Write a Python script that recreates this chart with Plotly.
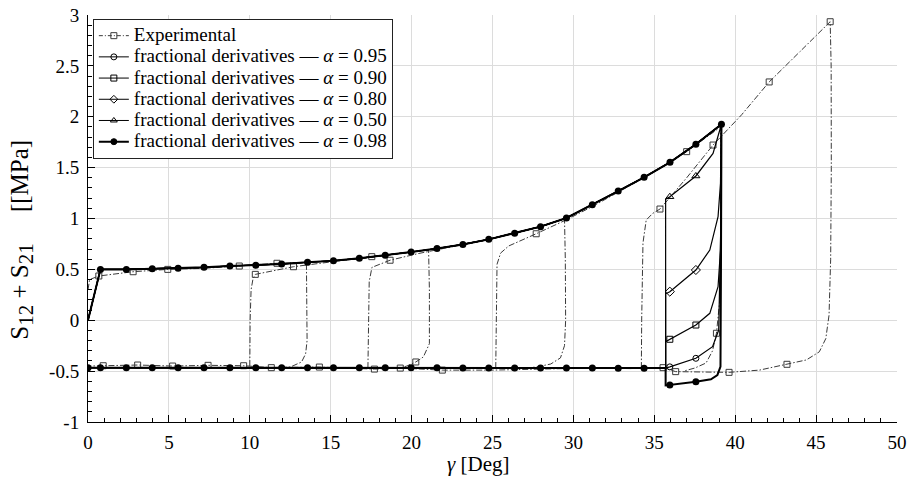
import plotly.graph_objects as go

# ---------------- Fractional-derivative model ----------------
# shared loading branch (gamma in deg, S12+S21 in MPa)
LOAD_X = [0.0, 0.77, 2.37, 3.97, 5.57, 7.17, 8.77, 10.37, 11.97, 13.57, 15.17, 16.77,
          18.37, 19.97, 21.57, 23.17, 24.77, 26.37, 27.97, 29.57, 31.17, 32.77, 34.37,
          35.97, 37.57, 39.15]
LOAD_Y = [0.0, 0.50, 0.50, 0.507, 0.511, 0.52, 0.533, 0.54, 0.553, 0.57, 0.585, 0.609,
          0.638, 0.671, 0.705, 0.745, 0.795, 0.855, 0.92, 1.005, 1.135, 1.27, 1.405,
          1.552, 1.729, 1.926]
# shared lower branch (from the end of unloading back to 0)
LOWER_X = [35.7, 34.37, 32.77, 31.17, 29.57, 27.97, 26.37, 24.77, 23.17, 21.57, 19.97,
           18.37, 16.77, 15.17, 13.57, 11.97, 10.37, 8.77, 7.17, 5.57, 3.97, 2.37, 0.77, 0.0]
LOWER_Y = [-0.47, -0.472, -0.472, -0.47, -0.47, -0.47, -0.47, -0.47, -0.47, -0.468, -0.468,
           -0.468, -0.468, -0.468, -0.467, -0.467, -0.466, -0.466, -0.466, -0.466, -0.466,
           -0.466, -0.466, -0.466]

# unloading branches (39.15 -> 35.7), one per alpha
UNL_X = {
    "0.95": [39.15, 39.12, 39.05, 38.98, 38.6, 37.57, 35.96, 35.7],
    "0.90": [39.15, 39.12, 39.09, 38.94, 38.43, 37.57, 35.96, 35.7],
    "0.80": [39.15, 39.12, 39.09, 38.94, 38.43, 37.57, 35.96, 35.7],
    "0.50": [39.15, 38.63, 37.57, 35.96, 35.7],
    "0.98": [39.15, 39.12, 39.09, 38.9, 38.5, 37.57, 35.96, 35.7],
}
UNL_Y = {
    "0.95": [1.926, 1.0, 0.3, -0.096, -0.26, -0.374, -0.458, -0.47],
    "0.90": [1.926, 1.3, 0.69, 0.33, 0.068, -0.047, -0.187, -0.21],
    "0.80": [1.926, 1.7, 1.346, 1.018, 0.69, 0.494, 0.281, 0.26],
    "0.50": [1.926, 1.64, 1.418, 1.214, 1.19],
    "0.98": [1.926, 0.5, -0.456, -0.54, -0.58, -0.604, -0.636, -0.64],
}
# marker positions on the unloading branches
UNL_MX = [37.57, 35.96]
UNL_MY = {
    "0.95": [-0.374, -0.458],
    "0.90": [-0.047, -0.187],
    "0.80": [0.494, 0.281],
    "0.50": [1.418, 1.214],
    "0.98": [-0.604, -0.636],
}

# ---------------- Experimental ----------------
EXP_X = [0.0, 0.1, 0.67, 2.79, 4.93, 7.1, 9.35, 11.68, 13.5, 13.53, 13.54, 13.45, 13.2, 12.5, 11.33,
         None,
         10.0, 10.02, 10.08, 10.2, 10.34, 12.7, 15.1, 17.54, 19.6, 21.05, 21.1, 21.1, 20.73, 20.26, 19.7, 19.3,
         None,
         17.3, 17.32, 17.38, 17.55, 18.67, 20.4, 22.6, 24.6, 26.6, 28.3, 29.45, 29.5, 29.52, 29.45, 29.2, 28.6, 27.7, 26.9,
         None,
         25.2, 25.22, 25.28, 25.5, 26.0, 27.7, 29.6, 31.2, 33.0, 34.7, 37.0, 39.1, 39.12, 39.05, 38.84, 38.6, 38.2, 37.5, 36.8,
         None,
         34.2, 34.22, 34.3, 34.5, 34.9, 35.35, 37.0, 38.63, 40.4, 42.1, 44.0, 45.87, 45.93, 45.94, 45.9, 45.8,
         45.6, 45.2, 44.4, 43.2, 41.5, 39.62, 37.8, 36.32, 35.54, 33.5, 31.0, 28.0, 25.0, 21.9, 19.3, 17.7,
         14.3, 11.33, 9.62, 7.42, 5.23, 3.07, 0.94, 0.0]
EXP_Y = [0.30, 0.40, 0.435, 0.477, 0.50, 0.51, 0.533, 0.56, 0.57, 0.3, -0.2, -0.33, -0.41, -0.46, -0.466,
         None,
         -0.45, 0.0, 0.3, 0.41, 0.451, 0.526, 0.575, 0.625, 0.665, 0.69, 0.3, -0.23, -0.36, -0.41, -0.45, -0.47,
         None,
         -0.47, 0.0, 0.38, 0.52, 0.59, 0.655, 0.725, 0.79, 0.865, 0.94, 1.0, 0.6, 0.0, -0.25, -0.37, -0.43, -0.46, -0.47,
         None,
         -0.47, 0.0, 0.55, 0.66, 0.73, 0.85, 0.99, 1.12, 1.28, 1.43, 1.657, 1.9, 1.0, 0.2, -0.128, -0.3, -0.42, -0.47, -0.5,
         None,
         -0.47, 0.0, 0.76, 0.985, 1.05, 1.093, 1.40, 1.722, 2.02, 2.342, 2.64, 2.934, 2.5, 1.5, 0.6, 0.05,
         -0.18, -0.31, -0.39, -0.433, -0.49, -0.512, -0.51, -0.505, -0.466, -0.475, -0.47, -0.48, -0.49, -0.49, -0.47, -0.48,
         -0.46, -0.466, -0.447, -0.443, -0.45, -0.44, -0.447, -0.45]
# experimental sample markers
EXP_MX = [0.67, 2.79, 4.93, 9.35, 10.34, 11.68, 12.7, 17.54, 18.67, 20.26, 27.7, 35.35, 37.0, 38.63, 38.84,
          42.1, 45.87, 43.2, 39.62, 36.32, 35.54, 21.9, 19.3, 17.7, 14.3, 11.33, 9.62, 7.42, 5.23, 3.07, 0.94]
EXP_MY = [0.435, 0.477, 0.50, 0.533, 0.451, 0.56, 0.526, 0.625, 0.59, -0.41, 0.85, 1.093, 1.657, 1.722, -0.128,
          2.342, 2.934, -0.433, -0.512, -0.505, -0.466, -0.49, -0.47, -0.48, -0.46, -0.466, -0.447, -0.443, -0.45, -0.44, -0.447]

ALPHAS = ["0.95", "0.90", "0.80", "0.50", "0.98"]
SYMBOLS = {"0.95": "circle-open", "0.90": "square-open", "0.80": "diamond-open",
           "0.50": "triangle-up-open", "0.98": "circle"}

Y_TICKS = [-1, -0.5, 0, 0.5, 1, 1.5, 2, 2.5, 3]
Y_TICK_TEXT = ["-1", "-0.5", "0", "0.5", "1", "1.5", "2", "2.5", "3"]
X_TICKS = [0, 5, 10, 15, 20, 25, 30, 35, 40, 45, 50]

FONT = "Liberation Serif, Times New Roman, serif"
EXP_COLOR = "#3a3a3a"
EXP_DASH = "6px,2px,1.5px,2px"
LEG_SPAN = "<span style='font-size:19px'>{}</span>"
Y_TITLE = ("S<sub><span style='font-size:21px'>12</span></sub> + "
           "S<sub><span style='font-size:21px'>21</span></sub>"
           "&nbsp;&nbsp;&nbsp;&nbsp;&nbsp;[[MPa]")

fig = go.Figure()

# experimental
fig.add_trace(go.Scatter(x=EXP_X, y=EXP_Y, mode="lines", connectgaps=False,
                         line=dict(color=EXP_COLOR, width=1, dash=EXP_DASH),
                         showlegend=False, hoverinfo="skip"))
fig.add_trace(go.Scatter(x=EXP_MX, y=EXP_MY, mode="markers",
                         marker=dict(symbol="square-open", size=6, color=EXP_COLOR,
                                     line=dict(width=1, color=EXP_COLOR)),
                         showlegend=False))

# fractional model curves
for a in ALPHAS:
    w = 2 if a == "0.98" else 1.2
    xs = LOAD_X + UNL_X[a] + LOWER_X
    ys = LOAD_Y + UNL_Y[a] + LOWER_Y
    fig.add_trace(go.Scatter(x=xs, y=ys, mode="lines",
                             line=dict(color="black", width=w),
                             showlegend=False, hoverinfo="skip"))
for a in ALPHAS:
    if a == "0.98":
        mx = LOAD_X[1:] + UNL_MX + LOWER_X[1:]
        my = LOAD_Y[1:] + UNL_MY[a] + LOWER_Y[1:]
        mk = dict(symbol="circle", size=7, color="black")
    else:
        mx, my = UNL_MX, UNL_MY[a]
        mk = dict(symbol=SYMBOLS[a], size=7 if a in ("0.80", "0.50") else 6,
                  color="black", line=dict(width=1, color="black"))
    fig.add_trace(go.Scatter(x=mx, y=my, mode="markers", marker=mk, showlegend=False))

# legend entries
fig.add_trace(go.Scatter(x=[None], y=[None], mode="lines+markers",
                         name=LEG_SPAN.format("Experimental"),
                         line=dict(color=EXP_COLOR, width=1, dash="4px,2px,1px,2px"),
                         marker=dict(symbol="square-open", size=6, color=EXP_COLOR)))
for a in ALPHAS:
    w = 2 if a == "0.98" else 1
    mk = dict(symbol=SYMBOLS[a], size=6, color="black", line=dict(width=1, color="black"))
    fig.add_trace(go.Scatter(x=[None], y=[None], mode="lines+markers",
                             name=LEG_SPAN.format("fractional derivatives — <i>α</i> = " + a),
                             line=dict(color="black", width=w), marker=mk))

grid = "#dcdcdc"
fig.update_layout(
    width=909, height=482,
    margin=dict(l=88, r=12, t=15, b=60),
    paper_bgcolor="white", plot_bgcolor="white",
    font=dict(family=FONT, size=19, color="black"),
    showlegend=True,
    legend=dict(x=0.006, y=0.99, xanchor="left", yanchor="top",
                bgcolor="white", bordercolor="#222", borderwidth=1,
                font=dict(family=FONT, size=14), tracegroupgap=0,
                itemwidth=30),
    xaxis=dict(range=[0, 50], tickvals=X_TICKS, showgrid=True, gridcolor=grid, gridwidth=1,
               zeroline=False, showline=True, linecolor="black", linewidth=1, automargin=False,
               ticks="inside", ticklen=7, tickcolor="black", ticklabelstandoff=3,
               minor=dict(dtick=1, ticks="inside", ticklen=4, tickcolor="black", showgrid=False)),
    yaxis=dict(range=[-1, 3], tickvals=Y_TICKS, ticktext=Y_TICK_TEXT, showgrid=True,
               gridcolor=grid, gridwidth=1, zeroline=False, showline=True, linecolor="black",
               linewidth=1, ticks="inside", ticklen=7, tickcolor="black", ticklabelstandoff=4,
               automargin=False,
               minor=dict(dtick=0.1, ticks="inside", ticklen=4, tickcolor="black", showgrid=False)),
    annotations=[
        dict(text="<i>γ</i> [Deg]", x=0.483, y=-0.103, xref="paper", yref="paper",
             xanchor="center", yanchor="middle", showarrow=False, font=dict(family=FONT, size=21)),
        dict(text=Y_TITLE, x=-0.082, y=0.447, xref="paper",
             yref="paper", xanchor="center", yanchor="middle", textangle=-90, showarrow=False,
             font=dict(family=FONT, size=25)),
    ],
)

fig.write_html("out.html", config={"displayModeBar": False},
               post_script="document.body.style.margin='0';document.body.style.overflow='hidden';")
